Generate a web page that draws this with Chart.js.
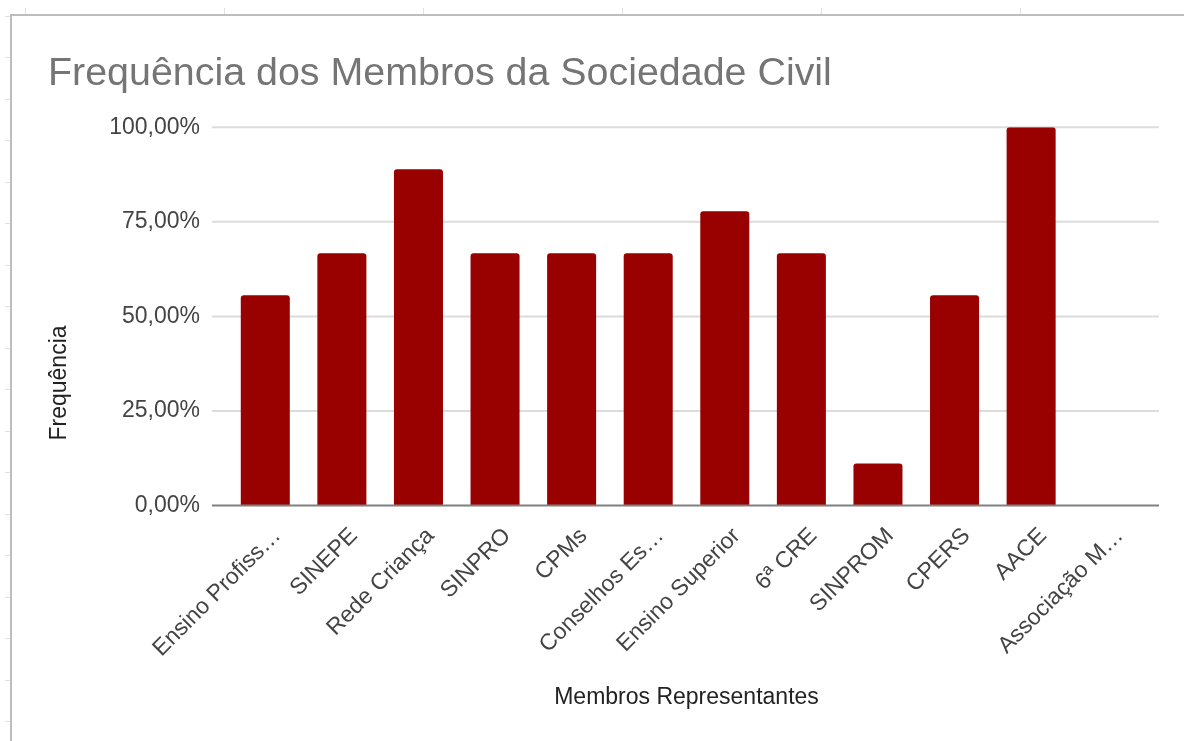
<!DOCTYPE html>
<html lang="pt-BR">
<head>
<meta charset="utf-8" />
<title>Frequência dos Membros da Sociedade Civil</title>
<script src="https://cdn.jsdelivr.net/npm/chart.js@4.4.1/dist/chart.umd.min.js"></script>
<style>
  html, body { margin: 0; padding: 0; background: #fff; }
  #wrap { width: 1184px; height: 741px; position: relative; }
</style>
</head>
<body>
<div id="wrap"><canvas id="freqChart" width="1184" height="741"></canvas></div>
<script>
const membros = ["Ensino Profiss…", "SINEPE", "Rede Criança", "SINPRO", "CPMs", "Conselhos Es…", "Ensino Superior", "6ª CRE", "SINPROM", "CPERS", "AACE", "Associação M…"];
const frequencia = [0.5556, 0.6667, 0.8889, 0.6667, 0.6667, 0.6667, 0.7778, 0.6667, 0.1111, 0.5556, 1.0, 0];
const yTicks = [0, 0.25, 0.5, 0.75, 1];

const FONT = "'Liberation Sans', Arial, sans-serif";

function pct(v) {
  return (v * 100).toFixed(2).replace(".", ",") + "%";
}

// moldura da planilha por trás do gráfico
const sheetFrame = {
  id: "sheetFrame",
  beforeDraw(chart) {
    const ctx = chart.ctx;
    ctx.save();
    ctx.strokeStyle = "#e2e2e2";
    ctx.lineWidth = 1;
    for (let x = 25; x < 1184; x += 199) {
      ctx.beginPath(); ctx.moveTo(x + 0.5, 8); ctx.lineTo(x + 0.5, 14); ctx.stroke();
    }
    for (let y = 15.5; y < 741; y += 41.5) {
      ctx.beginPath(); ctx.moveTo(5, Math.round(y) + 0.5); ctx.lineTo(10, Math.round(y) + 0.5); ctx.stroke();
    }
    ctx.strokeStyle = "#bdbdbd";
    ctx.lineWidth = 2;
    ctx.beginPath();
    ctx.moveTo(11, 741); ctx.lineTo(11, 15); ctx.lineTo(1184, 15);
    ctx.stroke();
    ctx.restore();
  }
};

// linhas de grade mais largas que a área das barras, como no Google Sheets
const wideGrid = {
  id: "wideGrid",
  beforeDatasetsDraw(chart) {
    const { ctx, chartArea, scales: { y } } = chart;
    ctx.save();
    ctx.strokeStyle = "#dcdcdc";
    ctx.lineWidth = 2;
    y.ticks.forEach((t) => {
      if (t.value === 0) return;
      const py = y.getPixelForValue(t.value);
      ctx.beginPath(); ctx.moveTo(chartArea.left - 15, py); ctx.lineTo(chartArea.right + 13, py); ctx.stroke();
    });
    ctx.restore();
  },
  afterDatasetsDraw(chart) {
    const { ctx, chartArea, scales: { y } } = chart;
    const py = y.getPixelForValue(0);
    ctx.save();
    ctx.strokeStyle = "#808080";
    ctx.lineWidth = 2;
    ctx.beginPath(); ctx.moveTo(chartArea.left - 15, py); ctx.lineTo(chartArea.right + 13, py); ctx.stroke();
    // título do eixo vertical
    ctx.translate(60, 383);
    ctx.rotate(-Math.PI / 2);
    ctx.fillStyle = "#222";
    ctx.font = "23px " + FONT;
    ctx.textAlign = "center";
    ctx.textBaseline = "middle";
    ctx.fillText("Frequência", 0, 0);
    ctx.restore();
  }
};

new Chart(document.getElementById("freqChart"), {
  type: "bar",
  data: {
    labels: membros,
    datasets: [{
      label: "Frequência",
      data: frequencia,
      backgroundColor: "#990000",
      borderRadius: { topLeft: 3, topRight: 3 },
      borderSkipped: "start",
      barPercentage: 0.64,
      categoryPercentage: 1
    }]
  },
  options: {
    responsive: false,
    animation: false,
    layout: { padding: { left: 48, right: 38, top: 0, bottom: 0 } },
    plugins: {
      legend: { display: false },
      tooltip: { enabled: false },
      title: {
        display: true,
        text: "Frequência dos Membros da Sociedade Civil",
        align: "start",
        color: "#757575",
        font: { family: FONT, size: 39.4, weight: "normal" },
        padding: { top: 51, bottom: 29 }
      }
    },
    scales: {
      x: {
        grid: { display: false, drawTicks: false },
        border: { display: false },
        ticks: {
          autoSkip: false,
          maxRotation: 45,
          minRotation: 45,
          labelOffset: 12,
          padding: 17,
          color: "#444",
          font: { family: FONT, size: 23 }
        },
        title: {
          display: true,
          text: "Membros Representantes",
          color: "#222",
          font: { family: FONT, size: 23 },
          padding: { top: 0, bottom: 30 }
        },
        afterFit(scale) { scale.height = 235.5; }
      },
      y: {
        min: 0,
        max: 1,
        grid: { display: false, drawTicks: false },
        border: { display: false },
        afterBuildTicks(scale) { scale.ticks = yTicks.map((v) => ({ value: v })); },
        ticks: {
          padding: 27,
          color: "#444",
          font: { family: FONT, size: 23 },
          callback: (v) => pct(v)
        },
        afterFit(scale) { scale.width = 179; }
      }
    }
  },
  plugins: [sheetFrame, wideGrid]
});
</script>
</body>
</html>
